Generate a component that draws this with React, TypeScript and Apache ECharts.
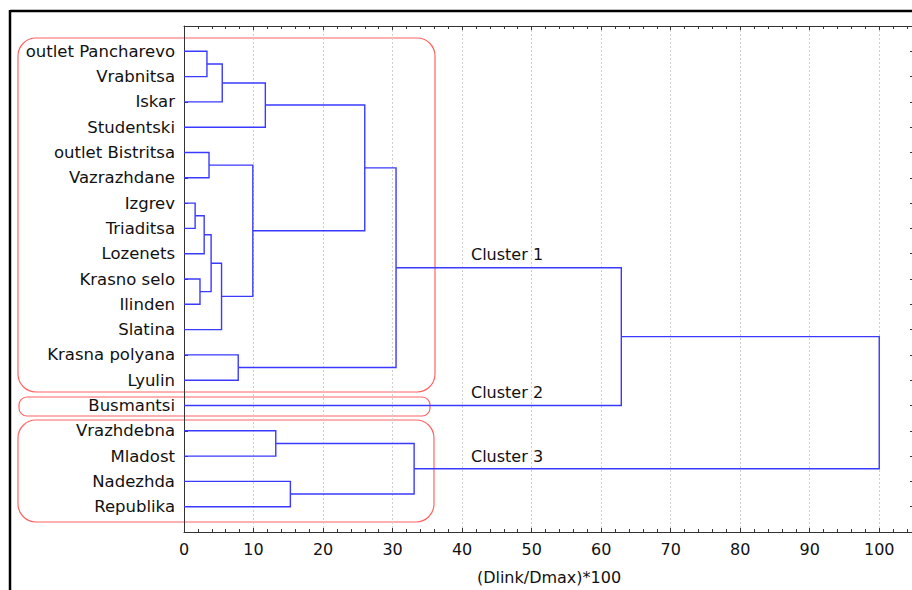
import React, { useEffect, useRef } from "react";
import * as echarts from "echarts";

const leafNames = [
  "outlet Pancharevo", "Vrabnitsa", "Iskar", "Studentski", "outlet Bistritsa",
  "Vazrazhdane", "Izgrev", "Triaditsa", "Lozenets", "Krasno selo", "Ilinden",
  "Slatina", "Krasna polyana", "Lyulin", "Busmantsi", "Vrazhdebna", "Mladost",
  "Nadezhda", "Republika",
];

// merge i joins mergeLeft[i] and mergeRight[i] (leaf name or earlier merge index) at mergeHeight[i]
const mergeLeft: (string | number)[] = [
  "outlet Pancharevo", 0, 1, "outlet Bistritsa", "Izgrev", 4, "Krasno selo", 5, 7, 3, 2,
  "Krasna polyana", 10, 12, "Vrazhdebna", "Nadezhda", 14, 13,
];
const mergeRight: (string | number)[] = [
  "Vrabnitsa", "Iskar", "Studentski", "Vazrazhdane", "Triaditsa", "Lozenets", "Ilinden", 6,
  "Slatina", 8, 9, "Lyulin", 11, "Busmantsi", "Mladost", "Republika", 15, 16,
];
const mergeHeight = [
  3.3, 5.5, 11.7, 3.6, 1.6, 2.9, 2.3, 3.9, 5.4, 9.9, 26.0, 7.8, 30.5, 62.9, 13.2, 15.3, 33.1, 100,
];

const xTicks = [0, 10, 20, 30, 40, 50, 60, 70, 80, 90, 100];
const clusterLabels = ["Cluster 1", "Cluster 2", "Cluster 3"];

const FONT = "DejaVu Sans";

function nodePos(n: string | number): [number, number] {
  if (typeof n === "string") return [0, leafNames.indexOf(n) + 1];
  const a = nodePos(mergeLeft[n]);
  const b = nodePos(mergeRight[n]);
  return [mergeHeight[n], (a[1] + b[1]) / 2];
}

export default function App() {
  const ref = useRef<HTMLDivElement>(null);
  useEffect(() => {
    if (!ref.current) return;
    const chart = echarts.init(ref.current, undefined, { renderer: "svg" });
    const links = mergeHeight.map((h, i) => {
      const a = nodePos(mergeLeft[i]);
      const b = nodePos(mergeRight[i]);
      return { coords: [[a[0], a[1]], [h, a[1]], [h, b[1]], [b[0], b[1]]] };
    });
    const axisLineStyle = { color: "#333", width: 1 };
    const xBase = {
      type: "value" as const,
      min: 0,
      max: 105,
      interval: 10,
      axisLine: { show: true, onZero: false, lineStyle: axisLineStyle },
      axisTick: { show: true, inside: true, length: 4, lineStyle: axisLineStyle },
      minorTick: { show: true, splitNumber: 5, length: 3, lineStyle: axisLineStyle },
    };
    const yBase = {
      type: "value" as const,
      inverse: true,
      min: 0,
      max: 20,
      interval: 1,
      axisLine: { show: true, onZero: false, lineStyle: axisLineStyle },
      axisTick: { show: true, inside: true, length: 4, lineStyle: axisLineStyle },
      splitLine: { show: false },
    };
    chart.setOption({
      animation: false,
      backgroundColor: "#fff",
      grid: {
        left: 184, top: 26, width: 730, height: 506,
        containLabel: false, outerBoundsMode: "none",
      },
      xAxis: [
        {
          ...xBase,
          position: "bottom",
          axisLabel: {
            show: true,
            margin: 9,
            fontFamily: FONT,
            fontSize: 16,
            color: "#111",
            formatter: (v: number) => (xTicks.includes(v) ? String(v) : ""),
          },
          splitLine: { show: true, lineStyle: { color: "#cfcfcf", type: [2, 2], width: 1 } },
          name: "(Dlink/Dmax)*100",
          nameLocation: "middle",
          nameGap: 37,
          nameTextStyle: { fontFamily: FONT, fontSize: 16, color: "#111" },
        },
        {
          ...xBase,
          position: "top",
          axisLabel: { show: false },
          splitLine: { show: false },
        },
      ],
      yAxis: [
        {
          ...yBase,
          position: "left",
          axisLabel: {
            show: true,
            margin: 9,
            fontFamily: FONT,
            fontSize: 16.5,
            color: "#111",
            formatter: (v: number) => leafNames[Math.round(v) - 1] ?? "",
          },
        },
        {
          ...yBase,
          position: "right",
          axisLabel: { show: false },
        },
      ],
      series: [
        {
          type: "lines",
          coordinateSystem: "cartesian2d",
          polyline: true,
          silent: true,
          data: links,
          lineStyle: { color: "#3a3aff", width: 1.4, opacity: 1 },
        },
      ],
      graphic: [
        { type: "line", shape: { x1: 10, y1: 11, x2: 912, y2: 11 }, style: { stroke: "#000", lineWidth: 2.5 } },
        { type: "line", shape: { x1: 10, y1: 10, x2: 10, y2: 590 }, style: { stroke: "#000", lineWidth: 2.5 } },
        { type: "rect", shape: { x: 18, y: 38, width: 417, height: 354, r: 18 }, style: { fill: "none", stroke: "#ff6464", lineWidth: 1.2 } },
        { type: "rect", shape: { x: 19, y: 397, width: 411, height: 19, r: 8 }, style: { fill: "none", stroke: "#ff6464", lineWidth: 1.2 } },
        { type: "rect", shape: { x: 18, y: 420, width: 416, height: 102, r: 18 }, style: { fill: "none", stroke: "#ff6464", lineWidth: 1.2 } },
        ...clusterLabels.map((t, i) => ({
          type: "text",
          x: 471,
          y: [254, 392, 456][i],
          style: { text: t, fontFamily: FONT, fontSize: 16, fill: "#111", verticalAlign: "middle", align: "left" },
        })),
      ],
    });
    return () => chart.dispose();
  }, []);
  return (
    <div
      ref={ref}
      style={{ position: "fixed", left: 0, top: 0, width: 912, height: 590, background: "#fff" }}
    />
  );
}
